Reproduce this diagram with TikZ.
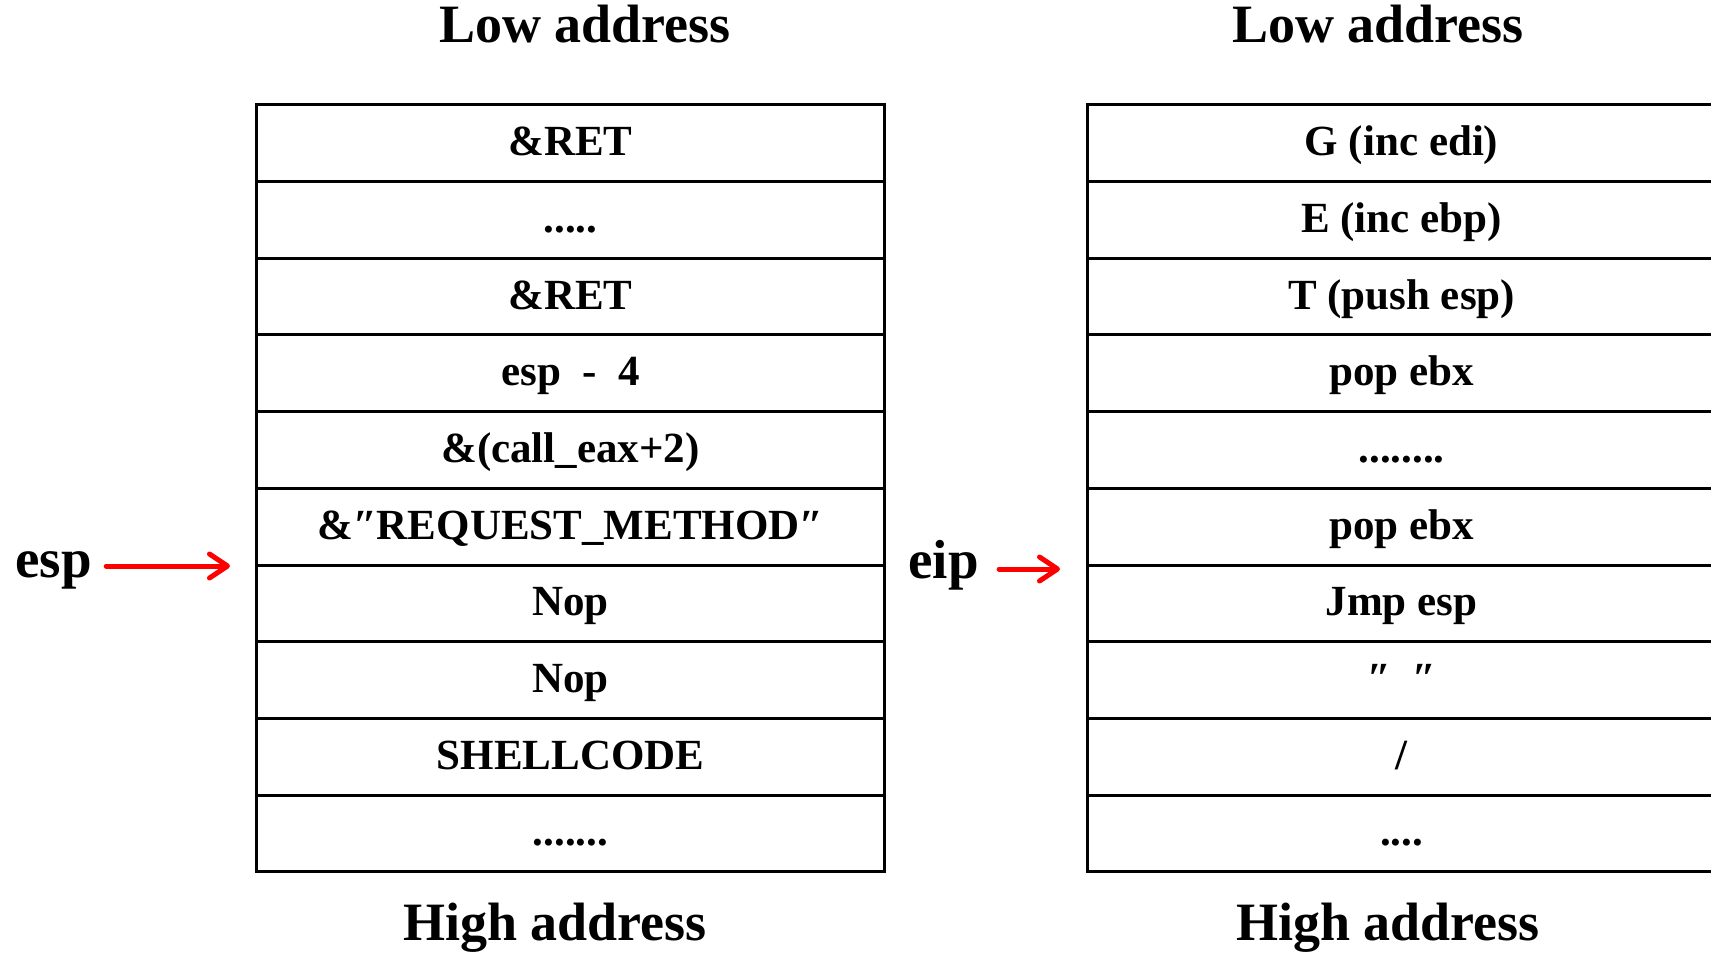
\documentclass[tikz,border=0pt]{standalone}
\usepackage{fontspec}
\setmainfont{Liberation Serif}
\usetikzlibrary{arrows.meta}
\definecolor{ptrred}{RGB}{255,0,0}
% runs of filler dots, kept out of \foreach lists (which read "..." as a range)
\newcommand\fillfour{....}
\newcommand\fillfive{.....}
\newcommand\fillseven{.......}
\newcommand\filleight{........}
\tikzset{
  cell/.style={draw, line width=1.5pt, minimum width=314.25pt, minimum height=38.35pt,
    inner sep=0pt, text height=14pt, text depth=1.5pt,
    font=\bfseries\fontsize{21.5}{25}\selectfont},
  heading/.style={anchor=base, inner sep=0pt, font=\bfseries\fontsize{27}{31}\selectfont},
  reglabel/.style={anchor=base west, inner sep=0pt, font=\bfseries\fontsize{27.5}{31}\selectfont},
  ptr/.style={draw=ptrred, line width=2.5pt, line cap=round,
    -{Straight Barb[length=9pt,width=12pt,round]}},
}
\begin{document}
\begin{tikzpicture}[x=0.5pt,y=-0.5pt]
\useasboundingbox (0,0) rectangle (1711,952);
\clip (0,0) rectangle (1711,952);

% stack before the call: one cell per slot
\foreach \txt [count=\i] in {{\&RET},{\fillfive},{\&RET},{esp\ \ -\ \ 4},{\&(call\_eax+2)},
    {\&″REQUEST\_METHOD″},{Nop},{Nop},{SHELLCODE},{\fillseven}}
  \node[cell] (L\i) at (570.5,{104.8+76.7*(\i-0.5)}) {\txt};

% code executed from the stack
\foreach \txt [count=\i] in {{G (inc edi)},{E (inc ebp)},{T (push esp)},{pop ebx},{\filleight},
    {pop ebx},{Jmp esp},{″\ \ ″},{/},{\fillfour}}
  \node[cell] (R\i) at (1401.5,{104.8+76.7*(\i-0.5)}) {\txt};

% address direction headings
\node[heading] (lowL)  at (585,43)   {Low address};
\node[heading] (lowR)  at (1378,43)  {Low address};
\node[heading] (highL) at (555,940)  {High address};
\node[heading] (highR) at (1388,940) {High address};

% register pointers, each ending just short of the slot boundary it marks
\node[reglabel] (esp) at (15,577)  {esp};
\node[reglabel] (eip) at (908,578) {eip};
\coordinate (espTip) at (230,566);
\coordinate (eipTip) at (1060,569);
\draw[ptr, shorten <=7pt]  (esp.east |- espTip) -- (espTip);
\draw[ptr, shorten <=10pt] (eip.east |- eipTip) -- (eipTip);
\end{tikzpicture}
\end{document}
